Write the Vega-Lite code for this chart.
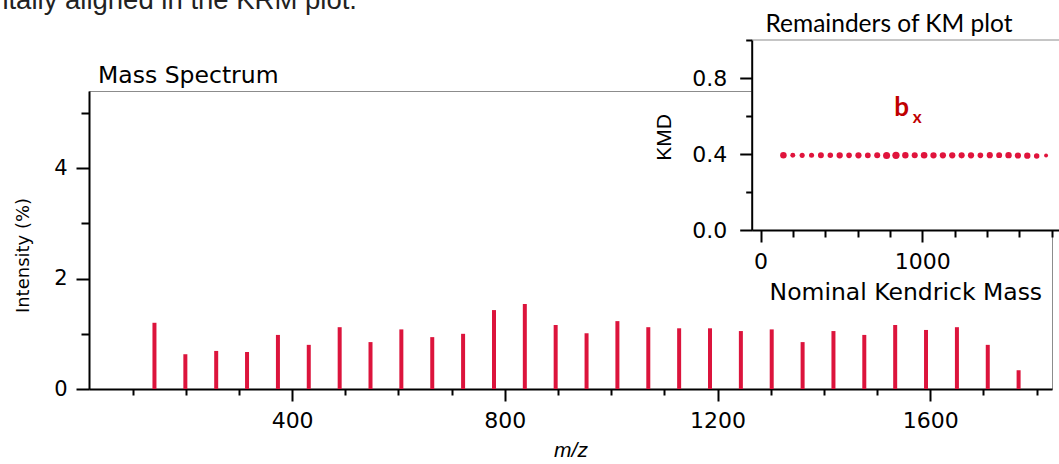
{
  "$schema": "https://vega.github.io/schema/vega-lite/v6.json",
  "width": 963,
  "height": 298,
  "autosize": "none",
  "padding": {"left": 89, "top": 91, "right": 7, "bottom": 75},
  "background": "white",
  "config": {
    "font": "DejaVu Sans",
    "view": {"stroke": "#8c8c8c", "strokeWidth": 1},
    "axis": {
      "grid": false,
      "labelFont": "DejaVu Sans",
      "titleFont": "DejaVu Sans",
      "labelColor": "#000",
      "titleColor": "#000",
      "tickColor": "#000",
      "domainColor": "#000",
      "tickWidth": 2,
      "domainWidth": 2,
      "labelOverlap": false,
      "labelFlush": false,
      "titleFontWeight": "normal"
    }
  },
  "datasets": {
    "peaks": [
      {"mz": 141.1, "intensity": 1.20, "nkm": 141, "kmd": 0.394},
      {"mz": 199.2, "intensity": 0.63, "nkm": 199, "kmd": 0.393},
      {"mz": 257.2, "intensity": 0.69, "nkm": 257, "kmd": 0.393},
      {"mz": 315.2, "intensity": 0.67, "nkm": 315, "kmd": 0.393},
      {"mz": 373.3, "intensity": 0.98, "nkm": 373, "kmd": 0.393},
      {"mz": 431.3, "intensity": 0.80, "nkm": 431, "kmd": 0.393},
      {"mz": 489.4, "intensity": 1.12, "nkm": 489, "kmd": 0.393},
      {"mz": 547.4, "intensity": 0.85, "nkm": 547, "kmd": 0.393},
      {"mz": 605.4, "intensity": 1.08, "nkm": 605, "kmd": 0.393},
      {"mz": 663.5, "intensity": 0.94, "nkm": 663, "kmd": 0.393},
      {"mz": 721.5, "intensity": 1.00, "nkm": 721, "kmd": 0.393},
      {"mz": 779.6, "intensity": 1.43, "nkm": 779, "kmd": 0.392},
      {"mz": 837.6, "intensity": 1.54, "nkm": 837, "kmd": 0.393},
      {"mz": 895.6, "intensity": 1.16, "nkm": 895, "kmd": 0.393},
      {"mz": 953.7, "intensity": 1.01, "nkm": 953, "kmd": 0.393},
      {"mz": 1011.7, "intensity": 1.23, "nkm": 1011, "kmd": 0.393},
      {"mz": 1069.8, "intensity": 1.12, "nkm": 1069, "kmd": 0.393},
      {"mz": 1127.8, "intensity": 1.10, "nkm": 1127, "kmd": 0.393},
      {"mz": 1185.8, "intensity": 1.10, "nkm": 1185, "kmd": 0.393},
      {"mz": 1243.9, "intensity": 1.05, "nkm": 1243, "kmd": 0.393},
      {"mz": 1301.9, "intensity": 1.08, "nkm": 1301, "kmd": 0.393},
      {"mz": 1360.0, "intensity": 0.85, "nkm": 1359, "kmd": 0.393},
      {"mz": 1418.0, "intensity": 1.05, "nkm": 1417, "kmd": 0.394},
      {"mz": 1476.0, "intensity": 0.98, "nkm": 1475, "kmd": 0.394},
      {"mz": 1534.1, "intensity": 1.16, "nkm": 1533, "kmd": 0.394},
      {"mz": 1592.1, "intensity": 1.07, "nkm": 1591, "kmd": 0.392},
      {"mz": 1650.2, "intensity": 1.12, "nkm": 1649, "kmd": 0.391},
      {"mz": 1708.2, "intensity": 0.80, "nkm": 1707, "kmd": 0.390},
      {"mz": 1766.2, "intensity": 0.34, "nkm": 1765, "kmd": 0.392}
    ],
    "one": [{}]
  },
  "layer": [
    {
      "layer": [
        {
          "data": {"name": "peaks"},
          "mark": {"type": "rule", "strokeWidth": 4, "color": "#DC143C"},
          "encoding": {
            "x": {
              "field": "mz", "type": "quantitative",
              "scale": {"domain": [18, 1829], "nice": false, "zero": false},
              "axis": {
                "title": "m/z",
                "values": [100, 200, 300, 400, 500, 600, 700, 800, 900, 1000, 1100, 1200, 1300, 1400, 1500, 1600, 1700, 1800],
                "format": "d",
                "labelExpr": "datum.value % 400 === 0 ? datum.label : ''",
                "tickSize": {"condition": {"test": "datum.value % 400 === 0", "value": 12}, "value": 6},
                "labelFontSize": 22,
                "labelPadding": 9,
                "titleFont": "Liberation Sans",
                "titleFontStyle": "italic",
                "titleFontSize": 21,
                "titlePadding": 8
              }
            },
            "y": {
              "field": "intensity", "type": "quantitative",
              "scale": {"domain": [0, 5.4], "nice": false},
              "axis": {
                "title": "Intensity (%)",
                "values": [0, 0.5, 1, 1.5, 2, 2.5, 3, 3.5, 4, 4.5, 5],
                "format": "d",
                "labelExpr": "datum.value % 2 === 0 ? datum.label : ''",
                "tickSize": {"condition": {"test": "datum.value % 2 === 0", "value": 13}, "value": 8},
                "labelFontSize": 21,
                "labelPadding": 9,
                "titleFontSize": 18,
                "titleX": -66,
                "titleY": 164,
                "titleBaseline": "middle"
              }
            },
            "y2": {"datum": 0}
          }
        },
        {
          "data": {"name": "one"},
          "mark": {"type": "text", "font": "DejaVu Sans", "fontSize": 23.5, "align": "left", "baseline": "alphabetic", "color": "#000"},
          "encoding": {
            "x": {"datum": 35, "type": "quantitative"},
            "y": {"datum": 5.545, "type": "quantitative"},
            "text": {"value": "Mass Spectrum"}
          }
        },
        {
          "data": {"name": "one"},
          "mark": {"type": "text", "font": "Liberation Sans", "fontSize": 27.5, "align": "right", "baseline": "alphabetic", "color": "#222"},
          "encoding": {
            "x": {"datum": 522, "type": "quantitative"},
            "y": {"datum": 6.886, "type": "quantitative"},
            "text": {"value": "horizontally aligned in the KRM plot."}
          }
        }
      ]
    },
    {
      "layer": [
        {
          "data": {"name": "one"},
          "mark": {"type": "rect", "fill": "white", "stroke": null},
          "encoding": {
            "x": {"datum": -55, "type": "quantitative", "scale": {"domain": [-55, 1845], "nice": false, "zero": false, "range": [662.7, 970]}},
            "x2": {"datum": 1845},
            "y": {"datum": 0, "type": "quantitative", "scale": {"domain": [0, 1], "nice": false, "range": [139, -51]}},
            "y2": {"datum": 1}
          }
        },
        {
          "data": {"name": "one"},
          "mark": {"type": "rule", "color": "#8c8c8c", "strokeWidth": 1},
          "encoding": {
            "x": {"datum": -55, "type": "quantitative"},
            "x2": {"datum": 1845},
            "y": {"datum": 1, "type": "quantitative"}
          }
        },
        {
          "data": {"name": "peaks"},
          "mark": {"type": "circle", "color": "#E0143C", "opacity": 1},
          "encoding": {
            "x": {
              "field": "nkm", "type": "quantitative",
              "scale": {"domain": [-55, 1845], "nice": false, "zero": false, "range": [662.7, 970]},
              "axis": {
                "orient": "bottom",
                "offset": -159,
                "zindex": 1,
                "title": "Nominal Kendrick Mass",
                "values": [0, 200, 400, 600, 800, 1000, 1200, 1400, 1600, 1800],
                "format": "d",
                "labelExpr": "datum.value % 1000 === 0 ? datum.label : ''",
                "tickSize": {"condition": {"test": "datum.value % 1000 === 0", "value": 12}, "value": 7},
                "labelFontSize": 22,
                "labelPadding": 9,
                "titleFontSize": 23.5,
                "titlePadding": 8
              }
            },
            "y": {
              "field": "kmd", "type": "quantitative",
              "scale": {"domain": [0, 1], "nice": false, "range": [139, -51]},
              "axis": {
                "orient": "left",
                "offset": -662.7,
                "zindex": 1,
                "title": "KMD",
                "values": [0, 0.1, 0.2, 0.3, 0.4, 0.5, 0.6, 0.7, 0.8, 0.9, 1.0],
                "format": ".1f",
                "labelExpr": "round(datum.value * 10) % 4 === 0 ? datum.label : ''",
                "tickSize": {"condition": {"test": "round(datum.value * 10) % 4 === 0", "value": 12}, "value": 6},
                "labelFontSize": 22,
                "labelPadding": 13,
                "titleFont": "Liberation Sans",
                "titleFontSize": 21,
                "titleX": -87,
                "titleY": 46,
                "titleBaseline": "middle"
              }
            },
            "size": {"field": "intensity", "type": "quantitative", "scale": {"domain": [0.3, 1.6], "range": [14, 55]}, "legend": null}
          }
        },
        {
          "data": {"name": "one"},
          "mark": {"type": "text", "font": "Lato", "fontSize": 24.5, "align": "center", "baseline": "alphabetic", "color": "#000"},
          "encoding": {
            "x": {"datum": 794, "type": "quantitative"},
            "y": {"datum": 1.042, "type": "quantitative"},
            "text": {"value": "Remainders of KM plot"}
          }
        },
        {
          "data": {"name": "one"},
          "mark": {"type": "text", "font": "Lato", "fontSize": 26, "fontWeight": "bold", "align": "center", "baseline": "alphabetic", "color": "#C00000"},
          "encoding": {
            "x": {"datum": 872, "type": "quantitative"},
            "y": {"datum": 0.6, "type": "quantitative"},
            "text": {"value": "b"}
          }
        },
        {
          "data": {"name": "one"},
          "mark": {"type": "text", "font": "Lato", "fontSize": 17, "fontWeight": "bold", "align": "left", "baseline": "alphabetic", "color": "#C00000"},
          "encoding": {
            "x": {"datum": 940, "type": "quantitative"},
            "y": {"datum": 0.565, "type": "quantitative"},
            "text": {"value": "x"}
          }
        }
      ]
    }
  ],
  "resolve": {"scale": {"x": "independent", "y": "independent", "size": "independent"}}
}
